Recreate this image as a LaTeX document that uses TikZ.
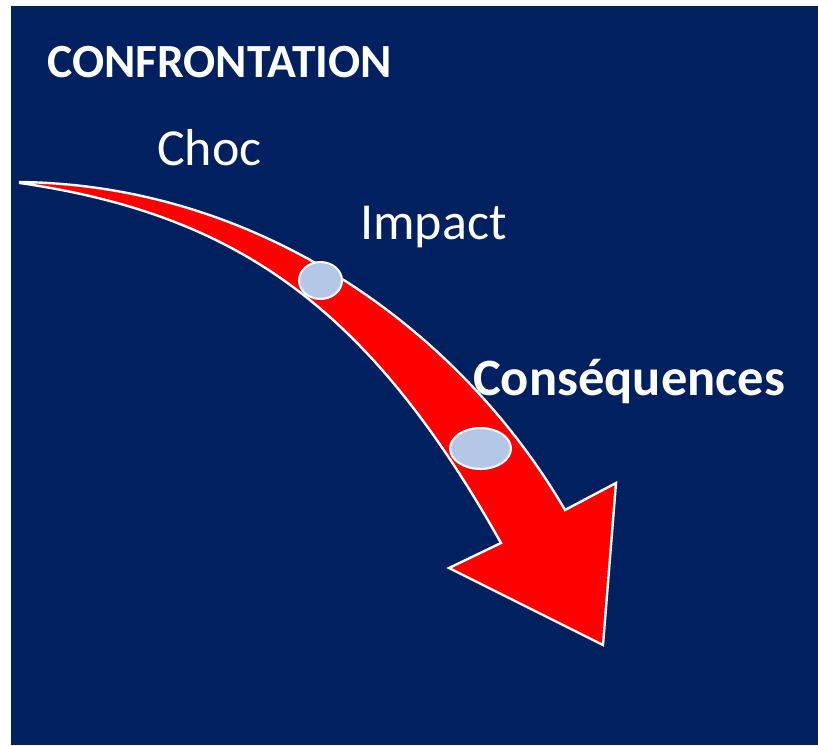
\documentclass[tikz,border=0pt]{standalone}
\usepackage{fontspec}
\setmainfont{Carlito}
\definecolor{navy}{HTML}{002060}
\definecolor{ellblue}{HTML}{B4C7E7}
\begin{document}
\begin{tikzpicture}[x=1pt,y=-1pt,
  lbl/.style={text=white,inner sep=0pt,anchor=base west},
  big/.style={lbl,font=\fontsize{52}{60}\selectfont},
  boldlbl/.style={lbl,font=\bfseries\fontsize{47.6}{54}\selectfont},
  boldbig/.style={lbl,font=\bfseries\fontsize{52.5}{60}\selectfont},
  dot/.style={fill=ellblue,draw=white,line width=2pt}]
\useasboundingbox (0,0) rectangle (818,745);
\fill[white] (0,0) rectangle (818,745);
\fill[navy] (11,6) rectangle (818,745);
\draw[white, line width=2.4pt, fill=red, line join=miter]
  (20,182) .. controls (260,185) and (460,330) .. (565,510)
  -- (616,483) -- (603,645) -- (449,568) -- (501,543)
  .. controls (370,310) and (240,215) .. (20,183) -- cycle;
\draw[dot] (320.5,280.5) ellipse [x radius=21.5pt, y radius=18.5pt];
\draw[dot] (480.5,448.5) ellipse [x radius=30.5pt, y radius=20.5pt];
\node[boldlbl] (title) at (47,77) {CONFRONTATION};
\node[big] (choc) at (157,165) {Choc};
\node[big] (impact) at (360,239) {Impact};
\node[boldbig] (cons) at (473,395) {Conséquences};
\end{tikzpicture}
\end{document}
